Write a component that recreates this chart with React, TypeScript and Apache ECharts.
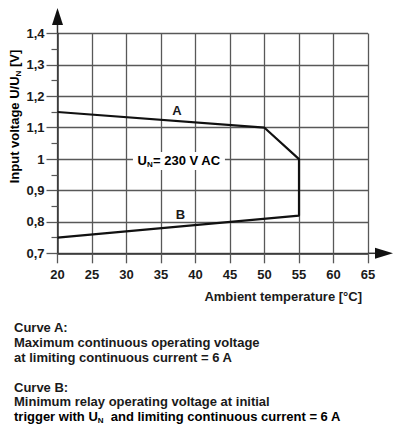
import React, { useEffect, useRef } from "react";
import * as echarts from "echarts";

// ---- data ----
const xMin = 20;
const xMax = 65;
const xStep = 5;
const yMin = 0.7;
const yMax = 1.4;
const yStep = 0.1;

// operating window: curve A (upper), vertical limit at 55 °C, curve B (lower)
const curveX = [20, 50, 55, 55, 20];
const curveY = [1.15, 1.1, 1.0, 0.82, 0.75];

const labelA = [37.3, 1.156];
const labelB = [37.8, 0.825];
const labelUn = [37.6, 0.994];

const xTitle = "Ambient temperature [°C]";
const yTitleParts = ["Input voltage U/U", "N", " [V]"];
const unParts = ["U", "N", "= 230 V AC"];

const notes = [
  "Curve A:",
  "Maximum continuous operating voltage",
  "at limiting continuous current = 6 A",
  "Curve B:",
  "Minimum relay operating voltage at initial",
];
const lastNoteParts = ["trigger with U", "N", "  and limiting continuous current = 6 A"];
const noteY = [327, 342, 357, 387, 401, 416];

const FONT = "'Liberation Sans', Arial, Helvetica, sans-serif";
const TXT = "#1a1a1a";
const GRID = "#585858";

export default function App() {
  const ref = useRef<HTMLDivElement>(null);

  useEffect(() => {
    if (!ref.current) return;
    const chart = echarts.init(ref.current, undefined, { renderer: "svg" });
    const data = curveX.map((x, i) => [x, curveY[i]]);
    chart.setOption({
      animation: false,
      grid: { left: 57.5, top: 33.5, width: 310.5, height: 219.8, containLabel: false },
      xAxis: {
        type: "value",
        min: xMin,
        max: xMax,
        interval: xStep,
        axisLine: { show: true, onZero: false, lineStyle: { color: "#333", width: 1.5 } },
        axisTick: { show: true, length: 10, lineStyle: { color: GRID, width: 1.3 } },
        axisLabel: {
          margin: 15,
          color: TXT,
          fontSize: 13,
          fontWeight: "bold",
          fontFamily: FONT,
        },
        splitLine: { show: true, lineStyle: { color: GRID, width: 1.3 } },
      },
      yAxis: {
        type: "value",
        min: yMin,
        max: yMax,
        interval: yStep,
        axisLine: { show: true, onZero: false, lineStyle: { color: "#333", width: 1.5 } },
        axisTick: { show: true, length: 11, lineStyle: { color: GRID, width: 1.3 } },
        minorTick: { show: true, splitNumber: 2, length: 6, lineStyle: { color: GRID, width: 1.2 } },
        axisLabel: {
          margin: 13,
          color: TXT,
          fontSize: 13,
          fontWeight: "bold",
          fontFamily: FONT,
          formatter: (v: number) => String(Math.round(v * 10) / 10).replace(".", ","),
        },
        splitLine: { show: true, lineStyle: { color: GRID, width: 1.3 } },
      },
      series: [
        {
          type: "line",
          data,
          showSymbol: false,
          symbol: "none",
          lineStyle: { color: "#111", width: 2.2 },
          z: 5,
        },
      ],
    });

    const p = (pt: number[]) => chart.convertToPixel({ gridIndex: 0 }, pt) as number[];
    const [x0, yTop] = p([xMin, yMax]);
    const [x1, y0] = p([xMax, yMin]);
    const pa = p(labelA);
    const pb = p(labelB);
    const pu = p(labelUn);

    const bold13 = { fontSize: 13, fontWeight: "bold", fontFamily: FONT, fill: TXT };
    const richMain = { fontSize: 13, fontWeight: "bold", fontFamily: FONT, color: TXT, lineHeight: 16 };
    const richSub = {
      fontSize: 8,
      fontWeight: "bold",
      fontFamily: FONT,
      color: TXT,
      lineHeight: 16,
      verticalAlign: "bottom",
    };

    const graphic: any[] = [
      {
        type: "line",
        shape: { x1: x0, y1: yTop, x2: x0, y2: yTop - 9 },
        style: { stroke: "#333", lineWidth: 1.5 },
      },
      {
        type: "polygon",
        shape: { points: [[x0 - 5.5, yTop - 8.5], [x0 + 5.5, yTop - 8.5], [x0, yTop - 25.5]] },
        style: { fill: "#111" },
      },
      {
        type: "line",
        shape: { x1: x1, y1: y0, x2: x1 + 8, y2: y0 },
        style: { stroke: "#333", lineWidth: 1.5 },
      },
      {
        type: "polygon",
        shape: { points: [[x1 + 7, y0 - 5.5], [x1 + 7, y0 + 5.5], [x1 + 25, y0]] },
        style: { fill: "#111" },
      },
      {
        type: "text",
        x: pa[0],
        y: pa[1],
        style: { ...bold13, text: "A", align: "center", verticalAlign: "middle" },
        z: 10,
      },
      {
        type: "text",
        x: pb[0],
        y: pb[1],
        style: { ...bold13, text: "B", align: "center", verticalAlign: "middle" },
        z: 10,
      },
      {
        type: "rect",
        shape: { x: pu[0] - 46, y: pu[1] - 9, width: 92, height: 18 },
        style: { fill: "#fff" },
        z: 8,
      },
      {
        type: "text",
        x: pu[0],
        y: pu[1],
        style: {
          text: `{a|${unParts[0]}}{s|${unParts[1]}}{a|${unParts[2]}}`,
          rich: { a: richMain, s: richSub },
          align: "center",
          verticalAlign: "middle",
        },
        z: 10,
      },
      {
        type: "text",
        x: 14.5,
        y: 116.5,
        rotation: Math.PI / 2,
        style: {
          text: `{a|${yTitleParts[0]}}{s|${yTitleParts[1]}}{a|${yTitleParts[2]}}`,
          rich: { a: richMain, s: richSub },
          align: "center",
          verticalAlign: "middle",
        },
      },
      {
        type: "text",
        x: x1 - 6,
        y: 296,
        style: { ...bold13, text: xTitle, align: "right", verticalAlign: "middle" },
      },
    ];

    notes.forEach((t, i) => {
      graphic.push({
        type: "text",
        x: 14,
        y: noteY[i],
        style: { ...bold13, text: t, align: "left", verticalAlign: "middle" },
      });
    });
    graphic.push({
      type: "text",
      x: 14,
      y: noteY[5],
      style: {
        text: `{a|${lastNoteParts[0]}}{s|${lastNoteParts[1]}}{a|${lastNoteParts[2]}}`,
        rich: { a: richMain, s: richSub },
        align: "left",
        verticalAlign: "middle",
      },
    });

    chart.setOption({ graphic });

    return () => chart.dispose();
  }, []);

  return (
    <div
      ref={ref}
      style={{ position: "fixed", left: 0, top: 0, width: 400, height: 437, background: "#fff" }}
    />
  );
}
